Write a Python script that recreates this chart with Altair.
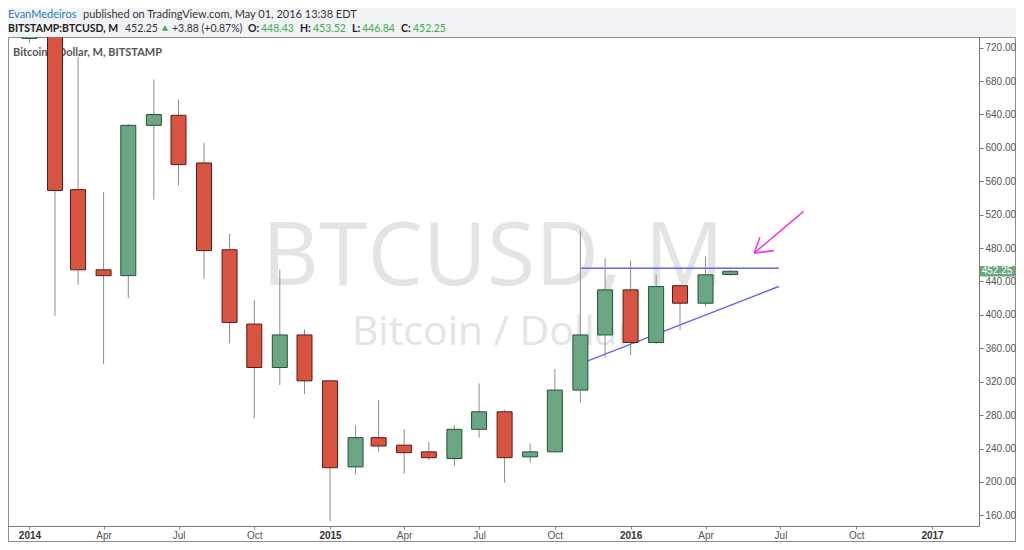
import altair as alt
import pandas as pd

# ---- data (monthly BITSTAMP:BTCUSD) ----
months = pd.date_range("2014-01-01", "2016-05-01", freq="MS").strftime("%Y-%m-%d").tolist()
opens = [731, 802, 550, 454, 447, 627, 639, 582, 478, 389, 337, 376, 321, 218, 253, 244,
         236, 228, 263, 284, 230, 236, 310, 376, 430, 367, 435, 414, 448.43]
highs = [1000, 803, 709, 547, 629, 682, 658, 606, 497, 418, 454, 383, 321, 268, 298, 263,
         248, 268, 318, 286, 246, 335, 501, 468, 465, 448, 436, 470, 453.52]
lows = [726, 399, 436, 341, 420, 538, 555, 443, 366, 276, 316, 305, 153, 209, 236, 210,
        226, 219, 253, 199, 223, 235, 295, 349, 352, 365, 382, 410, 446.84]
closes = [802, 549, 454, 447, 627, 640, 580, 477, 391, 337, 376, 321, 217, 253, 243, 235,
          229, 263, 284, 229, 236, 310, 376, 430, 367, 434, 414, 448, 452.25]

# trend lines (date, price)
line_dates = ["2015-11-01", "2016-06-29", "2015-11-10", "2016-06-29"]
line_vals = [456, 456, 345, 434]
line_grp = ["top", "top", "rise", "rise"]

# hand-drawn arrow segments
arrow_dates = ["2016-07-29", "2016-05-30", "2016-05-30", "2016-06-06", "2016-05-30", "2016-06-23"]
arrow_vals = [524, 474, 474, 493, 474, 477]
arrow_grp = ["a", "a", "b", "b", "c", "c"]

y_ticks = [160, 200, 240, 280, 320, 360, 400, 440, 480, 520, 560, 600, 640, 680, 720]
last_close = 452.25

df = pd.DataFrame({"date": months, "open": opens, "high": highs, "low": lows, "close": closes})
df["dir"] = ["up" if c >= o else "down" for o, c in zip(opens, closes)]
df_lines = pd.DataFrame({"date": line_dates, "v": line_vals, "g": line_grp})
df_arrow = pd.DataFrame({"date": arrow_dates, "v": arrow_vals, "g": arrow_grp})

W, H = 971, 489
UP, DOWN = "#6ba583", "#d75442"
UP_S, DOWN_S = "#225437", "#5b1a13"

xscale = alt.Scale(type="utc", domain=[alt.DateTime(year=2013, month=12, date=12, utc=True),
                                       alt.DateTime(year=2017, month=2, date=21, utc=True)])
yscale = alt.Scale(domain=[147.2, 732.8], nice=False, zero=False)

xaxis = alt.Axis(
    title=None, tickCount={"interval": "month", "step": 3},
    labelExpr="utcmonth(datum.value) == 0 ? utcFormat(datum.value, '%Y') : utcFormat(datum.value, '%b')",
    labelFont="Liberation Sans", labelFontSize=10,
    labelColor={"condition": {"test": "utcmonth(datum.value) == 0", "value": "#333"}, "value": "#555"},
    labelFontWeight={"condition": {"test": "utcmonth(datum.value) == 0", "value": "bold"}, "value": "normal"},
    tickSize=3, tickColor="#888", domainColor="#777", grid=False, labelPadding=1,
    labelOverlap=False, labelFlush=False, zindex=1)
yaxis = alt.Axis(
    title=None, orient="right", values=y_ticks, format=".2f",
    labelFont="Liberation Sans", labelFontSize=10, labelColor="#555",
    tickSize=4, tickColor="#777", domainColor="#777", grid=False, labelPadding=2, zindex=1)

X = alt.X("date:T", scale=xscale, axis=xaxis)

one = pd.DataFrame({"k": [0]})

frame = alt.Chart(one).mark_rect(fill="white", stroke="#8c8c8c", strokeWidth=1).encode(
    x=alt.value(0.5), x2=alt.value(1007.5), y=alt.value(0.5), y2=alt.value(504.5))

wm1 = alt.Chart(pd.DataFrame({"t": ["BTCUSD, M"]})).mark_text(
    font="Open Sans", fontSize=88, color="#e4e4e4", align="center", baseline="alphabetic").encode(
    text="t:N", x=alt.value(485), y=alt.value(248))
wm2 = alt.Chart(pd.DataFrame({"t": ["Bitcoin / Dollar"]})).mark_text(
    font="Open Sans", fontSize=41, color="#e4e4e4", align="center", baseline="alphabetic").encode(
    text="t:N", x=alt.value(485), y=alt.value(308))

legend_txt = alt.Chart(pd.DataFrame({"t": ["Bitcoin / Dollar, M, BITSTAMP"]})).mark_text(
    font="Lato", fontSize=11, fontWeight="bold", color="#555", align="left", baseline="middle").encode(
    text="t:N", x=alt.value(5), y=alt.value(16))

lines = alt.Chart(df_lines).mark_line(color="#6466ee", strokeWidth=1.5, clip=True).encode(
    x=X, y=alt.Y("v:Q", scale=yscale, axis=yaxis), detail="g:N")

wicks = alt.Chart(df).mark_rule(color="#8c8c8c", strokeWidth=1, clip=True).encode(
    x=X, y=alt.Y("low:Q", scale=yscale, axis=yaxis), y2="high:Q")

bodies = alt.Chart(df).mark_bar(size=15, strokeWidth=1, clip=True).encode(
    x=X, y=alt.Y("open:Q", scale=yscale, axis=yaxis), y2="close:Q",
    fill=alt.Fill("dir:N", scale=alt.Scale(domain=["up", "down"], range=[UP, DOWN]), legend=None),
    stroke=alt.Stroke("dir:N", scale=alt.Scale(domain=["up", "down"], range=[UP_S, DOWN_S]), legend=None))

arrow = alt.Chart(df_arrow).mark_line(color="#f03ce0", strokeWidth=1.6, clip=True).encode(
    x=X, y=alt.Y("v:Q", scale=yscale, axis=yaxis), detail="g:N")

pbox = alt.Chart(one).mark_rect(fill=UP).encode(
    x=alt.value(971), x2=alt.value(1007),
    y=alt.Y(datum=last_close + 6.2, scale=yscale, axis=yaxis), y2=alt.Y2(datum=last_close - 6.2))
ptxt = alt.Chart(one).mark_text(font="Liberation Sans", fontSize=10, color="white",
                                align="center", baseline="middle").encode(
    x=alt.value(989), y=alt.Y(datum=last_close, scale=yscale, axis=yaxis), text=alt.value(f"{last_close:.2f}"))

# header text segments
hdr1 = pd.DataFrame({
    "t": ["EvanMedeiros", "published on TradingView.com, May 01, 2016 13:38 EDT"],
    "px": [0, 75],
    "c": ["#2f7bbf", "#333333"],
})
hdr2_norm = pd.DataFrame({
    "t": ["452.25", "+3.88 (+0.87%)", "448.43", "453.52", "446.84", "452.25"],
    "px": [117, 164, 253, 305, 354, 405],
    "c": ["#333333", "#333333", "#3fae49", "#3fae49", "#3fae49", "#3fae49"],
})
hdr2_bold = pd.DataFrame({
    "t": ["BITSTAMP:BTCUSD, M", "O:", "H:", "L:", "C:"],
    "px": [0, 240, 292, 344, 393],
})
h1 = alt.Chart(hdr1).mark_text(font="Lato", fontSize=11, align="left", baseline="alphabetic").encode(
    text="t:N", x=alt.X("px:Q", scale=None), y=alt.value(-19), color=alt.Color("c:N", scale=None))
h2 = alt.Chart(hdr2_norm).mark_text(font="Lato", fontSize=10.5, align="left", baseline="alphabetic").encode(
    text="t:N", x=alt.X("px:Q", scale=None), y=alt.value(-5), color=alt.Color("c:N", scale=None))
h3 = alt.Chart(hdr2_bold).mark_text(font="Lato", fontSize=10.5, fontWeight="bold", color="#222",
                                    align="left", baseline="alphabetic").encode(
    text="t:N", x=alt.X("px:Q", scale=None), y=alt.value(-5))
tri = alt.Chart(one).mark_point(shape="triangle-up", filled=True, color="#3fae49", size=40, opacity=1).encode(
    x=alt.value(157), y=alt.value(-9))

chart = alt.layer(frame, wm1, wm2, legend_txt, lines, wicks, bodies, arrow, pbox, ptxt, h1, h2, h3, tri).resolve_scale(
    x="shared", y="shared"
).properties(
    width=W, height=H,
    padding={"left": 0, "top": 29, "right": 37, "bottom": 16},
    autosize=alt.AutoSizeParams(type="none"),
    background="#f1f3f6",
).configure_view(strokeWidth=0)

chart.save("out.html", embed_options={"renderer": "svg", "actions": False})
